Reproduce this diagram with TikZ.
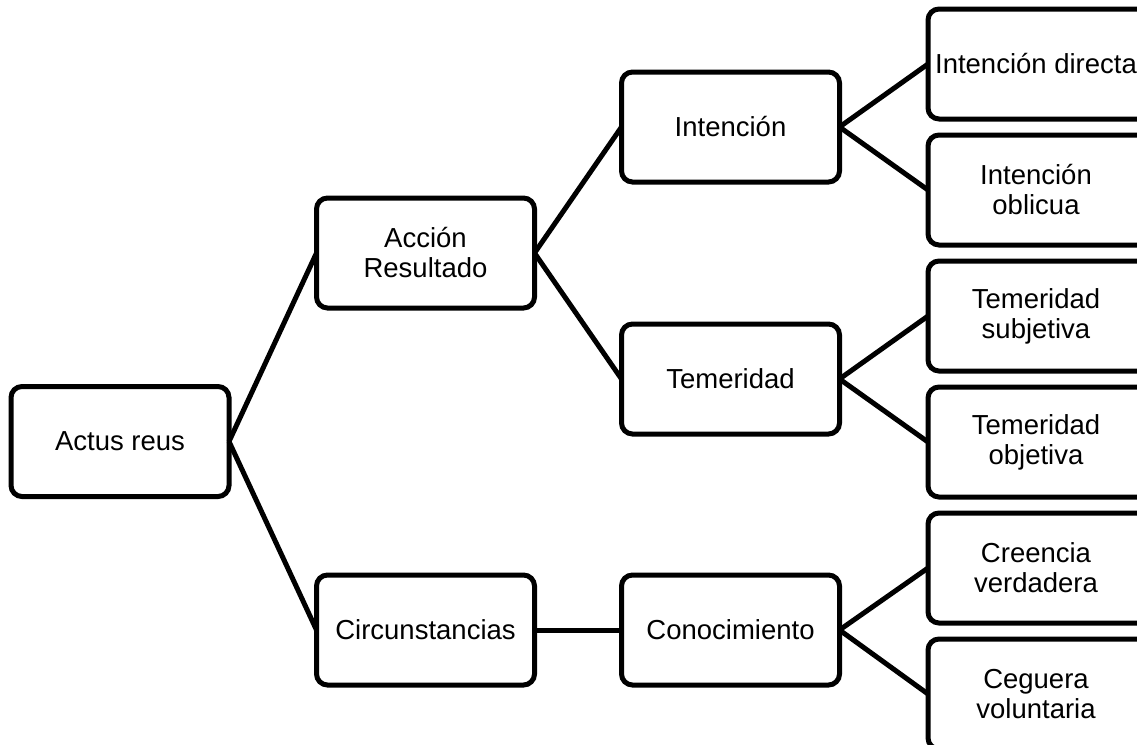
\documentclass[tikz,border=0pt]{standalone}
\usepackage{fontspec}
\setmainfont{Liberation Sans}
\begin{document}
\begin{tikzpicture}[x=1pt,y=-1pt,
  box/.style={draw=black, line width=5pt, rounded corners=11pt, fill=white,
    minimum width=218pt, minimum height=110pt, outer sep=0pt, inner sep=0pt,
    align=center, font=\fontsize{27.5}{30}\selectfont},
  leaflabel/.style={xshift=-10pt, inner sep=0pt, align=center,
    font=\fontsize{27.5}{30}\selectfont},
  leafbox/.style={box, minimum width=236pt, label={[leaflabel]center:#1}},
  link/.style={line width=5pt}]
\useasboundingbox (0,0) rectangle (1137,744);
% first level
\node[box] (actus) at (120,441.5) {Actus reus};
% second level
\node[box] (accion) at (425.5,253) {Acción\\Resultado};
\node[box] (circ) at (425.5,630) {Circunstancias};
% third level
\node[box] (intencion) at (730.5,127) {Intención};
\node[box] (temeridad) at (730.5,379) {Temeridad};
\node[box] (conoc) at (730.5,630) {Conocimiento};
% fourth level (boxes run past the right edge)
\node[leafbox={Intención directa}] (idir) at (1046,64) {};
\node[leafbox={Intención\\oblicua}] (iobl) at (1046,190) {};
\node[leafbox={Temeridad\\subjetiva}] (tsub) at (1046,316) {};
\node[leafbox={Temeridad\\objetiva}] (tobj) at (1046,442) {};
\node[leafbox={Creencia\\verdadera}] (creen) at (1046,568) {};
\node[leafbox={Ceguera\\voluntaria}] (ceg) at (1046,694) {};
% connectors
\draw[link] (actus.east) -- (accion.west);
\draw[link] (actus.east) -- (circ.west);
\draw[link] (accion.east) -- (intencion.west);
\draw[link] (accion.east) -- (temeridad.west);
\draw[link] (circ.east) -- (conoc.west);
\draw[link] (intencion.east) -- (idir.west);
\draw[link] (intencion.east) -- (iobl.west);
\draw[link] (temeridad.east) -- (tsub.west);
\draw[link] (temeridad.east) -- (tobj.west);
\draw[link] (conoc.east) -- (creen.west);
\draw[link] (conoc.east) -- (ceg.west);
\end{tikzpicture}
\end{document}
